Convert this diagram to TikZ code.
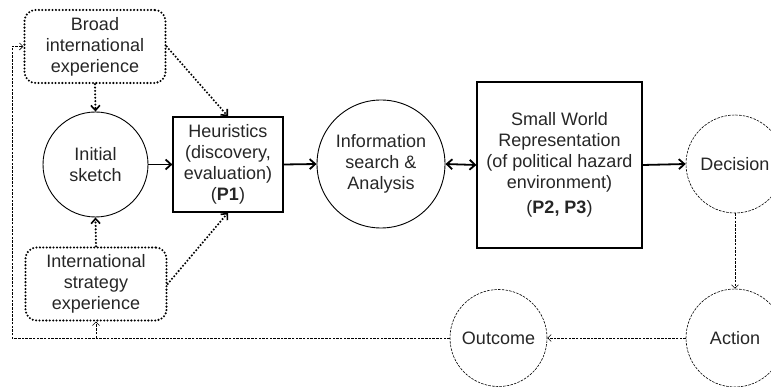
\documentclass[tikz,border=0pt]{standalone}
\usepackage{fontspec}
\setmainfont{Liberation Sans}
\usetikzlibrary{arrows.meta}
\begin{document}
\begin{tikzpicture}[x=1pt,y=-1pt,
  every node/.style={font=\fontsize{18}{21}\selectfont, align=center, inner sep=0pt, text=black!85},
  dotbox/.style={draw, line width=2.3pt, dash pattern=on 0pt off 3.4pt, line cap=round, rounded corners=11pt, minimum width=141pt, minimum height=73pt},
  solidbox/.style={draw, line width=1.2pt},
  solidcirc/.style={draw, circle, line width=0.9pt},
  dashcirc/.style={draw, circle, line width=0.6pt, dash pattern=on 2.5pt off 1.2pt},
  dotarrow/.style={line width=2.3pt, dash pattern=on 0pt off 3.4pt, line cap=round, -{Straight Barb[length=5pt,width=9pt,line width=1.6pt]}},
  thickarrow/.style={line width=1.8pt, -{Straight Barb[length=5.5pt,width=10pt,line width=1.8pt]}},
  thickdarrow/.style={line width=1.8pt, {Straight Barb[length=5.5pt,width=10pt,line width=1.8pt]}-{Straight Barb[length=5.5pt,width=10pt,line width=1.8pt]}},
  dasharrow/.style={line width=0.6pt, dash pattern=on 2.5pt off 1.2pt, -{Straight Barb[length=3.5pt,width=7pt,line width=0.6pt]}}
]
\useasboundingbox (0,0) rectangle (771,387);

\node[dotbox] (broad) at (95,46.5) {Broad\\international\\experience};
\node[dotbox] (intl) at (96,284) {International\\strategy\\experience};
\node[solidcirc, minimum size=105pt] (initial) at (95.5,164.5) {Initial\\sketch};
\node[solidbox, minimum width=110pt, minimum height=95pt] (heur) at (228,164.5) {Heuristics\\(discovery,\\evaluation)\\(\textbf{P1})};
\node[solidcirc, minimum size=128pt] (info) at (381,164) {Information\\search \&\\Analysis};
\node[solidbox, minimum width=165pt, minimum height=166pt] (sw) at (559.5,165) {Small World\\Representation\\(of political hazard\\environment)\\[4pt](\textbf{P2, P3})};
\node[dashcirc, minimum size=98pt] (decision) at (735,164) {Decision};
\node[dashcirc, minimum size=98pt] (action) at (735,338) {Action};
\node[dashcirc, minimum size=97pt] (outcome) at (498.5,338) {Outcome};

\draw[dotarrow] (broad.south) -- (initial.north);
\draw[dotarrow] (intl.north) -- (initial.south);
\draw[dotarrow] (broad.east) -- (heur.north);
\draw[dotarrow] (intl.east) -- (heur.south);

\draw[thickarrow] (initial.east) -- (heur.west);
\draw[thickarrow] (heur.east) -- (info.west);
\draw[thickdarrow] (info.east) -- (sw.west);
\draw[thickarrow] (sw.east) -- (decision.west);

\draw[dasharrow] (decision.south) -- (action.north);
\draw[dasharrow] (action.west) -- (outcome.east);
\coordinate (c1) at (12,338);
\coordinate (c2) at (intl.south |- c1);
\draw[dasharrow] (outcome.west) -- (c1) |- (broad.west);
\draw[dasharrow] (c2) -- (intl.south);
\end{tikzpicture}
\end{document}
